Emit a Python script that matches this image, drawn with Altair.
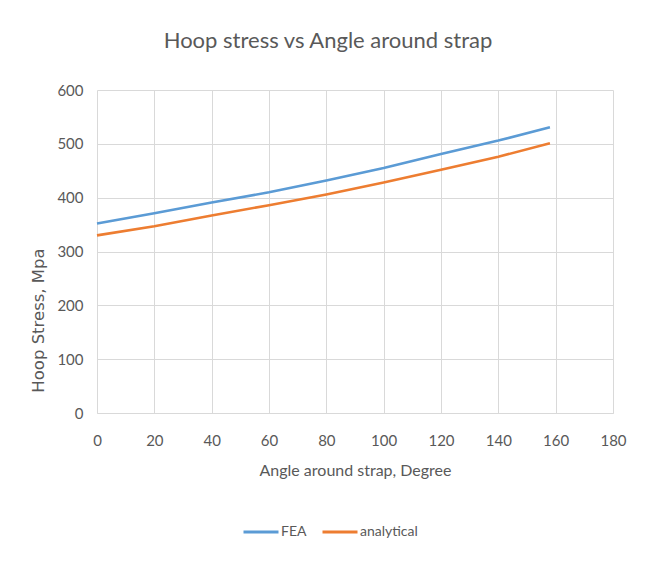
import altair as alt
import pandas as pd

angles = [0, 20, 40, 60, 80, 100, 120, 140, 158]
fea = [352, 371, 391, 410, 432, 455, 481, 506, 531]
analytical = [330, 347, 367, 386, 406, 428, 452, 476, 501]

series_names = ["FEA", "analytical"]
series_colors = ["#5B9BD5", "#ED7D31"]

rows = []
for a, f, an in zip(angles, fea, analytical):
    rows.append({"angle": a, "stress": f, "series": "FEA"})
    rows.append({"angle": a, "stress": an, "series": "analytical"})
df = pd.DataFrame(rows)

FONT = "Lato, sans-serif"
GRAY = "#595959"

chart = alt.Chart(df).mark_line(strokeWidth=2.6).encode(
    x=alt.X("angle:Q", title="Angle around strap, Degree",
            scale=alt.Scale(domain=[0, 180], nice=False),
            axis=alt.Axis(values=list(range(0, 181, 20)), tickSize=0,
                          labelFlush=False,
                          labelPadding=20, titlePadding=14, titleFontSize=16)),
    y=alt.Y("stress:Q", title="Hoop Stress, Mpa",
            scale=alt.Scale(domain=[0, 600], nice=False),
            axis=alt.Axis(values=list(range(0, 601, 100)), tickSize=0,
                          labelFlush=False,
                          labelPadding=14,
                          titleX=-59, titleY=230, titleAngle=270,
                          titleAlign="center", titleBaseline="middle",
                          domain=False,
                          titleFont="DejaVu Sans, Verdana, sans-serif",
                          titleFontSize=16.5,
                          titleFontWeight="normal")),
    color=alt.Color("series:N",
                    scale=alt.Scale(domain=series_names, range=series_colors),
                    legend=alt.Legend(title=None, orient="none", direction="horizontal",
                                      legendX=145, legendY=423,
                                      symbolType="stroke", symbolSize=1225,
                                      symbolStrokeWidth=3, columnPadding=9,
                                      labelOffset=1,
                                      labelFont=FONT, labelFontSize=14,
                                      labelColor=GRAY)),
).properties(
    width=516, height=323,
    background="white",
    title=alt.Title("Hoop stress vs Angle  around strap", fontSize=22,
                    font=FONT, color=GRAY, fontWeight="normal",
                    anchor="middle", dx=-27, offset=30),
    autosize=alt.AutoSizeParams(type="none"),
    padding={"left": 89, "top": 82, "right": 25, "bottom": 141},
).configure_axis(
    gridColor="#d9d9d9", gridWidth=1,
    domainColor="#d9d9d9", domainWidth=1,
    labelFont=FONT, labelFontSize=15, labelColor=GRAY,
    titleFont=FONT, titleFontSize=17, titleColor=GRAY, titleFontWeight="normal",
).configure_view(stroke=None)

chart.save("out.html", embed_options={"renderer": "svg", "actions": False})
